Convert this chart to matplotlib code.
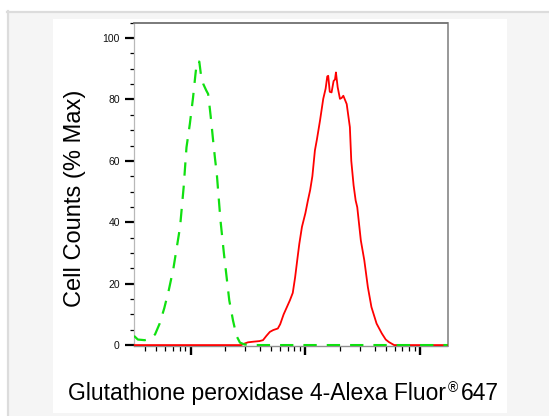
import matplotlib
matplotlib.use("Agg")
import matplotlib.pyplot as plt
import matplotlib.ticker as mticker
from matplotlib.patches import Rectangle
from matplotlib.lines import Line2D

# ---------------- data (fluorescence intensity, % of max) ----------------
green_x = [321, 347, 398, 447, 490, 537, 589, 646, 708, 809, 869, 920, 984,
           1050, 1100, 1135, 1190, 1230, 1290, 1365, 1420, 1470, 1510, 1570,
           1630, 1690, 1820, 1950, 2170, 2340, 2510, 2690, 2950, 3550, 173000]
green_y = [3.0, 1.8, 1.6, 2.0, 3.5, 7.0, 12.0, 18.0, 25.0, 38.5, 51.4, 64.4, 72.0,
           80.7, 88.0, 92.5, 92.3, 88.0, 85.0, 83.0, 81.8, 77.0, 73.0, 66.6,
           60.8, 55.8, 40.6, 29.8, 14.6, 8.0, 3.0, 0.8, 0.2, 0.0, 0.0]

red_x = [321, 2750, 2950, 3160, 3510, 3980, 4270, 4570, 4900, 5250, 5750, 6030,
         6460, 6920, 7330, 7760, 8130, 8510, 8850, 9330, 10000, 10500, 11000,
         11500, 12100, 12600, 13400, 14300, 15000, 15500, 15800, 16300, 16900,
         17600, 18100, 18450, 19100, 20000, 20700, 21400, 22900, 24400, 25100,
         26300, 27400, 28300, 30400, 32600, 35000, 37600, 41700, 46300, 50100,
         53300, 59300, 173000]
red_y = [0, 0, 0.5, 0.9, 1.1, 1.3, 1.6, 3.0, 4.3, 4.9, 5.4, 6.8,
         10.0, 12.5, 14.6, 17.0, 22.0, 28.0, 33.0, 38.5, 43.0, 47.0, 50.5,
         55.0, 63.4, 67.0, 73.1, 80.2, 83.5, 87.5, 87.7, 82.5, 82.3,
         86.0, 86.5, 88.8, 84.0, 80.2, 80.5, 81.2, 78.5, 71.0, 60.0,
         52.0, 47.1, 44.9, 34.1, 27.6, 18.9, 12.4, 7.0, 3.8, 1.8,
         1.0, 0.0, 0.0]

y_ticks = [0, 20, 40, 60, 80, 100]
y_ticklabels = ["0", "20", "40", "60", "80", "100"]
y_label = "Cell Counts (% Max)"
x_label_parts = ["Glutathione peroxidase 4-Alexa Fluor", "\u00ae", "647"]

# ---------------- figure ----------------
W, H = 549, 416
fig = plt.figure(figsize=(W / 100, H / 100), dpi=100, facecolor="white")


def fx(px):
    return px / W


def fy(py):
    return 1 - py / H


# light gray frame + white panel
fig.patches.append(Rectangle((fx(7), 0), 1 - fx(7), fy(11), transform=fig.transFigure,
                             facecolor="#f5f5f5", edgecolor="none", zorder=-10))
fig.lines.append(Line2D([fx(7.5), fx(7.5)], [0, fy(11)], transform=fig.transFigure,
                        color="#dcdcdc", lw=1.6, zorder=-9))
fig.lines.append(Line2D([fx(7), 1], [fy(11.8), fy(11.8)], transform=fig.transFigure,
                        color="#dcdcdc", lw=1.6, zorder=-9))
fig.patches.append(Rectangle((fx(52.5), fy(412.7)), fx(506.6) - fx(52.5), fy(19) - fy(412.7),
                             transform=fig.transFigure, facecolor="white",
                             edgecolor="none", zorder=-8))

ax = fig.add_axes([fx(134), fy(346), fx(447.5) - fx(134), fy(22.7) - fy(346)])
ax.set_facecolor("white")
ax.set_xscale("log")
ax.set_xlim(321, 173000)
ax.set_ylim(-0.3, 105)

ax.plot(red_x, red_y, color="#ff0000", lw=1.3, zorder=3, solid_joinstyle="round")
ax.plot(green_x, green_y, color="#10e010", lw=1.6, dashes=(6.0, 4.5), zorder=4)

ax.xaxis.set_major_locator(mticker.LogLocator(base=10, numticks=10))
ax.xaxis.set_minor_locator(mticker.LogLocator(base=10, subs=range(2, 10), numticks=20))
ax.xaxis.set_major_formatter(mticker.NullFormatter())
ax.xaxis.set_minor_formatter(mticker.NullFormatter())
ax.set_yticks(y_ticks)
ax.set_yticklabels(y_ticklabels, fontsize=7.5, family="Liberation Sans", color="#111111")
ax.yaxis.set_minor_locator(mticker.MultipleLocator(5))

ax.tick_params(axis="y", which="major", direction="out", length=6.2, width=1.6, pad=4.0)
ax.tick_params(axis="y", which="minor", direction="out", length=3.0, width=0.9)
ax.tick_params(axis="x", which="major", direction="out", length=6.5, width=1.7)
ax.tick_params(axis="x", which="minor", direction="out", length=3.5, width=0.9)

ax.spines["left"].set_color("#b8b8b8")
ax.spines["left"].set_linewidth(0.9)
ax.spines["bottom"].set_color("#909090")
ax.spines["bottom"].set_linewidth(1.0)
ax.spines["top"].set_color("#707070")
ax.spines["top"].set_linewidth(1.3)
ax.spines["right"].set_color("#909090")
ax.spines["right"].set_linewidth(1.3)

# y label
fig.text(fx(75), fy(198.6), y_label, rotation=90, ha="center", va="center",
         fontsize=17, family="Liberation Sans", color="black")

# x label with superscript registered sign
renderer = fig.canvas.get_renderer()
fs = 16.5
base_y = fy(400)
x_px = 68.3
t1 = fig.text(fx(x_px), base_y, x_label_parts[0], fontsize=fs, family="Liberation Sans",
              va="baseline", ha="left")
w1 = t1.get_window_extent(renderer).width
x_px += w1 + 1.0
t2 = fig.text(fx(x_px), fy(400 - 8), x_label_parts[1], fontsize=fs * 0.6,
              family="Liberation Sans", va="baseline", ha="left")
w2 = t2.get_window_extent(renderer).width
x_px += w2 + 3.5
fig.text(fx(x_px), base_y, x_label_parts[2], fontsize=fs, family="Liberation Sans",
         va="baseline", ha="left")

fig.savefig("out.png", dpi=100, facecolor=fig.get_facecolor())
